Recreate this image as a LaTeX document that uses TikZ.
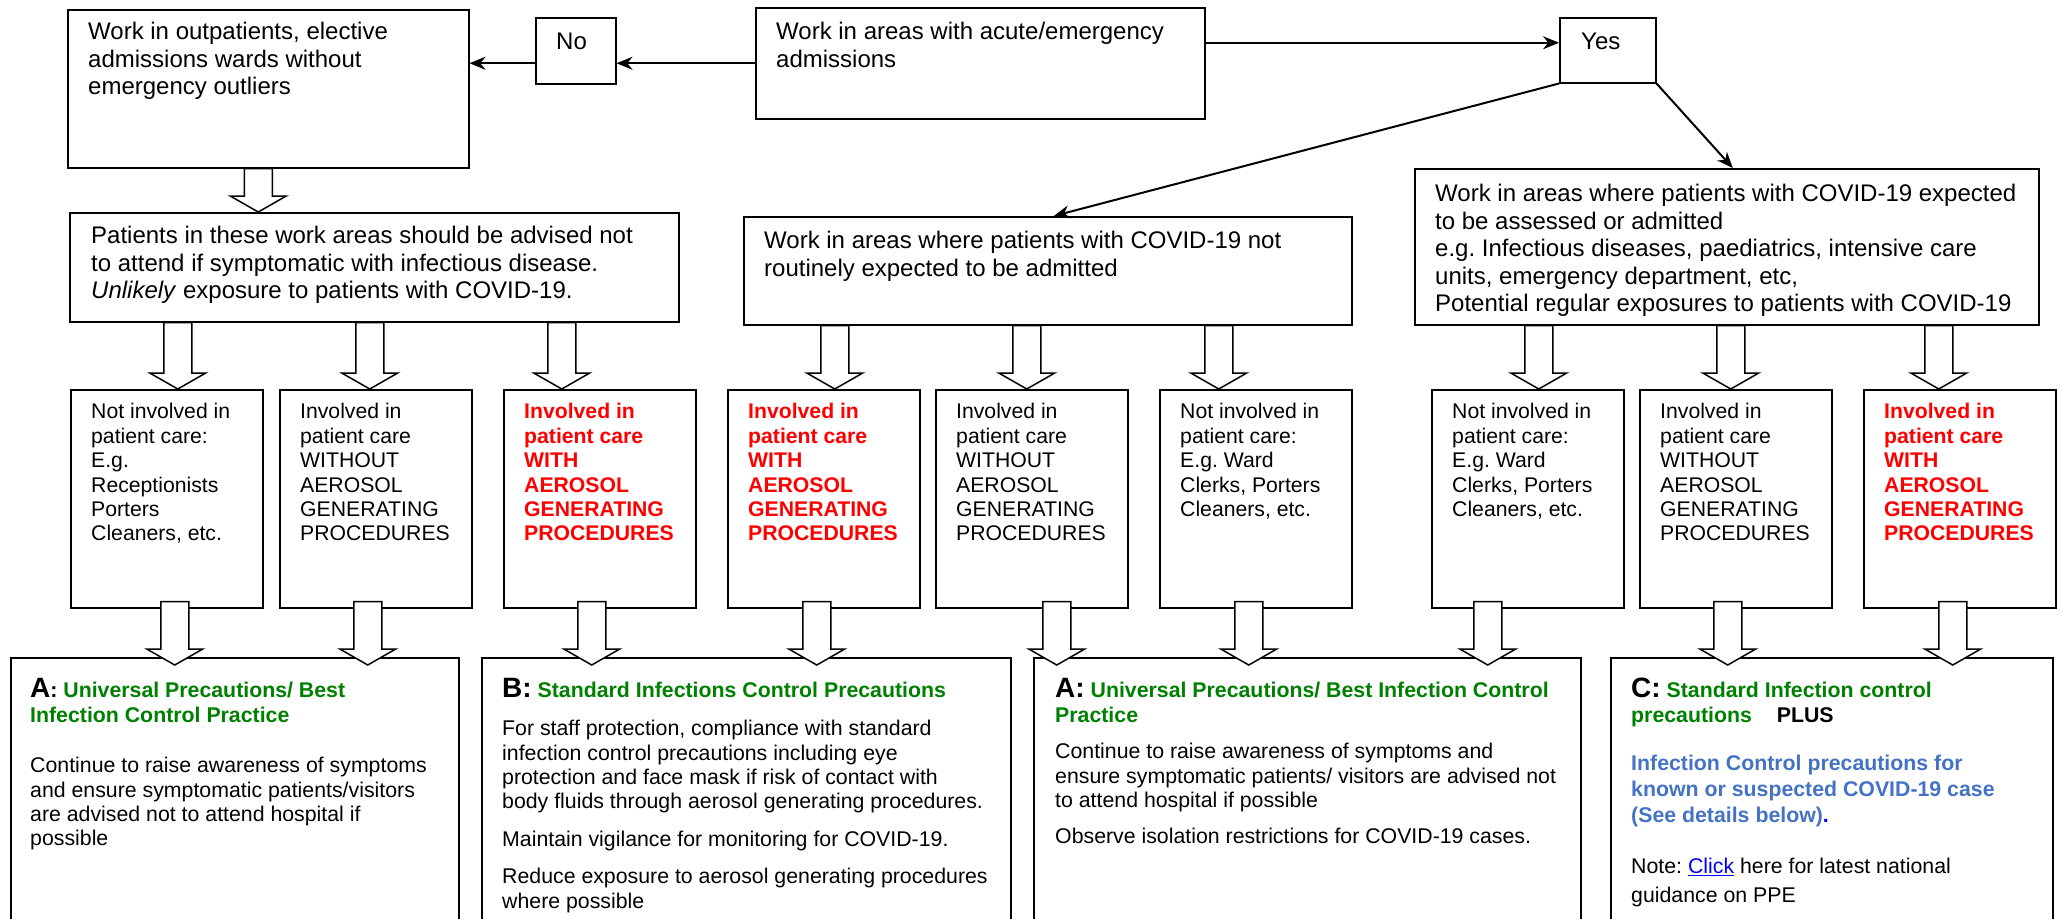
\documentclass[tikz,border=0pt]{standalone}
\usepackage{fontspec}
\setmainfont{Liberation Sans}
\usetikzlibrary{arrows.meta,calc}

\definecolor{hdgreen}{RGB}{0,128,0}
\definecolor{infoblue}{RGB}{68,114,196}
\definecolor{linkblue}{RGB}{0,0,255}

\newcommand\topfont{\fontsize{24}{27.6}\selectfont}
\newcommand\rowfont{\fontsize{21.2}{24.4}\selectfont}
\newcommand\botfont{\fontsize{21.3}{24.4}\selectfont}
\newcommand\bigletter[1]{{\fontsize{28}{30}\selectfont\bfseries #1}}

\tikzset{
  box/.style={draw, line width=1.5pt, anchor=north west, inner sep=0pt},
  rowbox/.style={box, minimum width=192pt, minimum height=218pt},
  sheet/.style={box, minimum height=300pt},
  txt/.style={anchor=north west, inner sep=0pt, align=left},
  toptxt/.style={txt, font=\topfont},
  rowtxt/.style={txt, font=\rowfont},
  redtxt/.style={txt, font=\rowfont\bfseries, text=red},
  bottxt/.style={txt, font=\botfont},
  arr/.style={->, line width=2pt},
  hollow/.style={draw, line width=1.5pt, fill=white, to path={
      let \p1=(\tikztostart), \p2=(\tikztotarget) in
      (\x1-14pt,\y1) -- (\x1-14pt,\y2+16pt) -- (\x1-28pt,\y2+16pt)
      -- (\x1,\y2) -- (\x1+28pt,\y2+16pt) -- (\x1+14pt,\y2+16pt)
      -- (\x1+14pt,\y1) -- cycle}}
}

\begin{document}
\frenchspacing
\begin{tikzpicture}[x=1pt, y=-1pt, >={Stealth[length=16pt,width=13pt]}]
  \useasboundingbox (0,0) rectangle (2063,918);
  \clip (0,0) rectangle (2063,918);

  % top row
  \node[box, minimum width=401pt, minimum height=158pt] (out) at (67,9) {};
  \node[toptxt] (out-t) at ([xshift=21pt,yshift=-11pt]out.north west)
    {\strut Work in outpatients, elective\\admissions wards without\\emergency outliers};
  \node[box, minimum width=80pt, minimum height=66pt] (no) at (535,17) {};
  \node[toptxt] (no-t) at ([xshift=21pt,yshift=-12.7pt]no.north west) {\strut No};
  \node[box, minimum width=449pt, minimum height=111pt] (main) at (755,7) {};
  \node[toptxt] (main-t) at ([xshift=21pt,yshift=-12.9pt]main.north west)
    {\strut Work in areas with acute/emergency\\admissions};
  \node[box, minimum width=96pt, minimum height=65pt] (yes) at (1559,17) {};
  \node[toptxt] (yes-t) at ([xshift=22pt,yshift=-12.7pt]yes.north west) {\strut Yes};

  % second row
  \node[box, minimum width=609pt, minimum height=109pt] (pat) at (69,212) {};
  \node[toptxt] (pat-t) at ([xshift=22pt,yshift=-11.9pt]pat.north west)
    {\strut Patients in these work areas should be advised not\\
     to attend if symptomatic with infectious disease.\\
     \textit{Unlikely} exposure to patients with COVID-19.};
  \node[box, minimum width=608pt, minimum height=108pt] (mid) at (743,216) {};
  \node[toptxt] (mid-t) at ([xshift=21pt,yshift=-12.9pt]mid.north west)
    {\strut Work in areas where patients with COVID-19 not\\
     routinely expected to be admitted};
  \node[box, minimum width=624pt, minimum height=156pt] (rgt) at (1414,168) {};
  \node[toptxt] (rgt-t) at ([xshift=21pt,yshift=-13.9pt]rgt.north west)
    {\strut Work in areas where patients with COVID-19 expected\\
     to be assessed or admitted\\
     e.g. Infectious diseases, paediatrics, intensive care\\
     units, emergency department, etc,\\
     Potential regular exposures to patients with COVID-19};

  % staff groups
  \node[rowbox] (r1) at (70,389) {};
  \node[rowtxt] (r1-t) at ([xshift=21pt,yshift=-12.7pt]r1.north west)
    {\strut Not involved in\\patient care:\\E.g.\\Receptionists\\Porters\\Cleaners, etc.};
  \node[rowbox] (r2) at (279,389) {};
  \node[rowtxt] (r2-t) at ([xshift=21pt,yshift=-12.7pt]r2.north west)
    {\strut Involved in\\patient care\\WITHOUT\\AEROSOL\\GENERATING\\PROCEDURES};
  \node[rowbox] (r3) at (503,389) {};
  \node[redtxt] (r3-t) at ([xshift=21pt,yshift=-12.7pt]r3.north west)
    {\strut Involved in\\patient care\\WITH\\AEROSOL\\GENERATING\\PROCEDURES};
  \node[rowbox] (r4) at (727,389) {};
  \node[redtxt] (r4-t) at ([xshift=21pt,yshift=-12.7pt]r4.north west)
    {\strut Involved in\\patient care\\WITH\\AEROSOL\\GENERATING\\PROCEDURES};
  \node[rowbox] (r5) at (935,389) {};
  \node[rowtxt] (r5-t) at ([xshift=21pt,yshift=-12.7pt]r5.north west)
    {\strut Involved in\\patient care\\WITHOUT\\AEROSOL\\GENERATING\\PROCEDURES};
  \node[rowbox] (r6) at (1159,389) {};
  \node[rowtxt] (r6-t) at ([xshift=21pt,yshift=-12.7pt]r6.north west)
    {\strut Not involved in\\patient care:\\E.g. Ward\\Clerks, Porters\\Cleaners, etc.};
  \node[rowbox] (r7) at (1431,389) {};
  \node[rowtxt] (r7-t) at ([xshift=21pt,yshift=-12.7pt]r7.north west)
    {\strut Not involved in\\patient care:\\E.g. Ward\\Clerks, Porters\\Cleaners, etc.};
  \node[rowbox] (r8) at (1639,389) {};
  \node[rowtxt] (r8-t) at ([xshift=21pt,yshift=-12.7pt]r8.north west)
    {\strut Involved in\\patient care\\WITHOUT\\AEROSOL\\GENERATING\\PROCEDURES};
  \node[rowbox] (r9) at (1863,389) {};
  \node[redtxt] (r9-t) at ([xshift=21pt,yshift=-12.7pt]r9.north west)
    {\strut Involved in\\patient care\\WITH\\AEROSOL\\GENERATING\\PROCEDURES};

  % precaution sheets
  \node[sheet, minimum width=448pt] (A1) at (10,657) {};
  \node[bottxt] (A1-t) at ([xshift=20pt,yshift=-16pt]A1.north west)
    {\rule{0pt}{24pt}\bigletter{A}\textbf{:} \textcolor{hdgreen}{\bfseries Universal Precautions/ Best}\\[1.1pt]
     \textcolor{hdgreen}{\bfseries Infection Control Practice}\\[25.6pt]
     Continue to raise awareness of symptoms\\
     and ensure symptomatic patients/visitors\\
     are advised not to attend hospital if\\
     possible};
  \node[sheet, minimum width=529pt] (B) at (481,657) {};
  \node[bottxt] (B-t) at ([xshift=21pt,yshift=-16pt]B.north west)
    {\rule{0pt}{24pt}\bigletter{B:} \textcolor{hdgreen}{\bfseries Standard Infections Control Precautions}\\[14.1pt]
     For staff protection, compliance with standard\\
     infection control precautions including eye\\
     protection and face mask if risk of contact with\\
     body fluids through aerosol generating procedures.\\[13.6pt]
     Maintain vigilance for monitoring for COVID-19.\\[12.6pt]
     Reduce exposure to aerosol generating procedures\\
     where possible};
  \node[sheet, minimum width=547pt] (A2) at (1033,657) {};
  \node[bottxt] (A2-t) at ([xshift=22pt,yshift=-16pt]A2.north west)
    {\rule{0pt}{24pt}\bigletter{A:} \textcolor{hdgreen}{\bfseries Universal Precautions/ Best Infection Control}\\[1.1pt]
     \textcolor{hdgreen}{\bfseries Practice}\\[11.6pt]
     Continue to raise awareness of symptoms and\\
     ensure symptomatic patients/ visitors are advised not\\
     to attend hospital if possible\\[11.6pt]
     Observe isolation restrictions for COVID-19 cases.};
  \node[sheet, minimum width=442pt] (C) at (1610,657) {};
  \node[bottxt] (C-t) at ([xshift=21pt,yshift=-16pt]C.north west)
    {\rule{0pt}{24pt}\bigletter{C:} \textcolor{hdgreen}{\bfseries Standard Infection control}\\[1.1pt]
     \textcolor{hdgreen}{\bfseries precautions}\hspace{19pt} \textbf{PLUS}\\[23.6pt]
     \textcolor{infoblue}{\bfseries Infection Control precautions for}\\[1.6pt]
     \textcolor{infoblue}{\bfseries known or suspected COVID-19 case}\\[1.6pt]
     \textcolor{infoblue}{\bfseries (See details below)}\textcolor{linkblue}{\bfseries .}\\[26.6pt]
     Note: \textcolor{linkblue}{\underline{Click}} here for latest national\\[4.6pt]
     guidance on PPE};

  % decision arrows
  \draw[arr] (main.west) -- (main.west -| no.east);
  \draw[arr] (no.west |- main.west) -- (main.west -| out.east);
  \coordinate (yin) at ([yshift=7.5pt]yes.west);
  \draw[arr] (yin -| main.east) -- (yin);
  \draw[arr] (yes.south west) -- ([xshift=6pt]mid.north);
  \draw[arr] (yes.south east) -- ([xshift=6pt]rgt.north);

  % block arrows down to the staff groups
  \draw[hollow] ([xshift=-10pt]out.south) to (pat.north);
  \draw[hollow] ($(pat.south -| r1.north)+(11pt,0)$) to (r1.north);
  \draw[hollow] ($(pat.south -| r2.north)+(-6pt,0)$) to (r2.north);
  \draw[hollow] ($(pat.south -| r3.north)+(-38pt,0)$) to (r3.north);
  \draw[hollow] ($(mid.south -| r4.north)+(11pt,0)$) to (r4.north);
  \draw[hollow] ($(mid.south -| r5.north)+(-5pt,0)$) to (r5.north);
  \draw[hollow] ($(mid.south -| r6.north)+(-37pt,0)$) to (r6.north);
  \draw[hollow] ($(rgt.south -| r7.north)+(11pt,0)$) to (r7.north);
  \draw[hollow] ($(rgt.south -| r8.north)+(-5pt,0)$) to (r8.north);
  \draw[hollow] ($(rgt.south -| r9.north)+(-21pt,0)$) to (r9.north);

  % block arrows down to the precaution sheets
  \draw[hollow] ([xshift=8pt,yshift=7pt]r1.south) to ([yshift=-8pt]A1.north);
  \draw[hollow] ([xshift=-8pt,yshift=7pt]r2.south) to ([yshift=-8pt]A1.north);
  \draw[hollow] ([xshift=-8pt,yshift=7pt]r3.south) to ([yshift=-8pt]B.north);
  \draw[hollow] ([xshift=-7pt,yshift=7pt]r4.south) to ([yshift=-8pt]B.north);
  \draw[hollow] ([xshift=25pt,yshift=7pt]r5.south) to ([yshift=-8pt]A2.north);
  \draw[hollow] ([xshift=-7pt,yshift=7pt]r6.south) to ([yshift=-8pt]A2.north);
  \draw[hollow] ([xshift=-40pt,yshift=7pt]r7.south) to ([yshift=-8pt]A2.north);
  \draw[hollow] ([xshift=-8pt,yshift=7pt]r8.south) to ([yshift=-8pt]C.north);
  \draw[hollow] ([xshift=-7pt,yshift=7pt]r9.south) to ([yshift=-8pt]C.north);
\end{tikzpicture}
\end{document}
